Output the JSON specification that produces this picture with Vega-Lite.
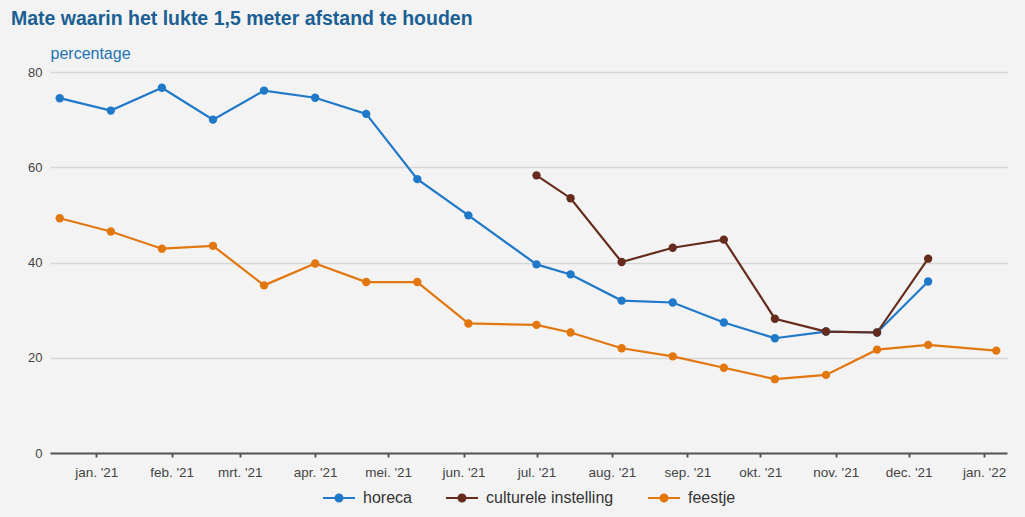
{
  "$schema": "https://vega.github.io/schema/vega-lite/v6.json",
  "autosize": {"type": "none"},
  "width": 957,
  "height": 381,
  "padding": {"left": 50, "top": 72, "right": 18, "bottom": 64},
  "background": "#f3f3f3",
  "title": {
    "text": "Mate waarin het lukte 1,5 meter afstand te houden",
    "anchor": "start",
    "frame": "group",
    "dx": -39,
    "font": "Liberation Sans",
    "fontSize": 19.5,
    "fontWeight": "bold",
    "color": "#1b5f94",
    "offset": 16
  },
  "config": {
    "view": {"stroke": null},
    "axis": {"labelFont": "Liberation Sans", "titleFont": "Liberation Sans"},
    "legend": {"layout": {"bottom": {"anchor": "middle"}}}
  },
  "data": {
    "values": [
      {"datum": "2020-12-17", "reeks": "horeca", "waarde": 74.5},
      {"datum": "2021-01-07", "reeks": "horeca", "waarde": 71.9},
      {"datum": "2021-01-28", "reeks": "horeca", "waarde": 76.7},
      {"datum": "2021-02-18", "reeks": "horeca", "waarde": 70.0},
      {"datum": "2021-03-11", "reeks": "horeca", "waarde": 76.1},
      {"datum": "2021-04-01", "reeks": "horeca", "waarde": 74.6},
      {"datum": "2021-04-22", "reeks": "horeca", "waarde": 71.2},
      {"datum": "2021-05-13", "reeks": "horeca", "waarde": 57.5},
      {"datum": "2021-06-03", "reeks": "horeca", "waarde": 49.9},
      {"datum": "2021-07-01", "reeks": "horeca", "waarde": 39.6},
      {"datum": "2021-07-15", "reeks": "horeca", "waarde": 37.5},
      {"datum": "2021-08-05", "reeks": "horeca", "waarde": 32.0},
      {"datum": "2021-08-26", "reeks": "horeca", "waarde": 31.6},
      {"datum": "2021-09-16", "reeks": "horeca", "waarde": 27.4},
      {"datum": "2021-10-07", "reeks": "horeca", "waarde": 24.1},
      {"datum": "2021-10-28", "reeks": "horeca", "waarde": 25.5},
      {"datum": "2021-11-18", "reeks": "horeca", "waarde": 25.3},
      {"datum": "2021-12-09", "reeks": "horeca", "waarde": 36.0},
      {"datum": "2021-07-01", "reeks": "culturele instelling", "waarde": 58.3},
      {"datum": "2021-07-15", "reeks": "culturele instelling", "waarde": 53.5},
      {"datum": "2021-08-05", "reeks": "culturele instelling", "waarde": 40.1},
      {"datum": "2021-08-26", "reeks": "culturele instelling", "waarde": 43.1},
      {"datum": "2021-09-16", "reeks": "culturele instelling", "waarde": 44.8},
      {"datum": "2021-10-07", "reeks": "culturele instelling", "waarde": 28.2},
      {"datum": "2021-10-28", "reeks": "culturele instelling", "waarde": 25.5},
      {"datum": "2021-11-18", "reeks": "culturele instelling", "waarde": 25.3},
      {"datum": "2021-12-09", "reeks": "culturele instelling", "waarde": 40.8},
      {"datum": "2020-12-17", "reeks": "feestje", "waarde": 49.3},
      {"datum": "2021-01-07", "reeks": "feestje", "waarde": 46.5},
      {"datum": "2021-01-28", "reeks": "feestje", "waarde": 42.9},
      {"datum": "2021-02-18", "reeks": "feestje", "waarde": 43.5},
      {"datum": "2021-03-11", "reeks": "feestje", "waarde": 35.2},
      {"datum": "2021-04-01", "reeks": "feestje", "waarde": 39.8},
      {"datum": "2021-04-22", "reeks": "feestje", "waarde": 35.9},
      {"datum": "2021-05-13", "reeks": "feestje", "waarde": 35.9},
      {"datum": "2021-06-03", "reeks": "feestje", "waarde": 27.2},
      {"datum": "2021-07-01", "reeks": "feestje", "waarde": 26.9},
      {"datum": "2021-07-15", "reeks": "feestje", "waarde": 25.3},
      {"datum": "2021-08-05", "reeks": "feestje", "waarde": 22.0},
      {"datum": "2021-08-26", "reeks": "feestje", "waarde": 20.3},
      {"datum": "2021-09-16", "reeks": "feestje", "waarde": 17.9},
      {"datum": "2021-10-07", "reeks": "feestje", "waarde": 15.5},
      {"datum": "2021-10-28", "reeks": "feestje", "waarde": 16.4},
      {"datum": "2021-11-18", "reeks": "feestje", "waarde": 21.7},
      {"datum": "2021-12-09", "reeks": "feestje", "waarde": 22.7},
      {"datum": "2022-01-06", "reeks": "feestje", "waarde": 21.5}
    ]
  },
  "encoding": {
    "x": {
      "field": "datum",
      "type": "temporal",
      "scale": {"type": "utc", "domain": ["2020-12-13", "2022-01-10T10:00:00"]},
      "axis": {
        "title": null,
        "values": ["2021-01-01", "2021-02-01", "2021-03-01", "2021-04-01", "2021-05-01", "2021-06-01", "2021-07-01", "2021-08-01", "2021-09-01", "2021-10-01", "2021-11-01", "2021-12-01", "2022-01-01"],
        "labelExpr": "['jan','feb','mrt','apr','mei','jun','jul','aug','sep','okt','nov','dec'][utcmonth(datum.value)] + \". '\" + utcFormat(datum.value, '%y')",
        "grid": false,
        "domainColor": "#555555",
        "domainWidth": 2,
        "tickColor": "#555555",
        "tickWidth": 2,
        "tickSize": 4,
        "labelPadding": 8,
        "labelFontSize": 13.5,
        "labelColor": "#444444",
        "labelFlush": false,
        "labelOverlap": false
      }
    },
    "y": {
      "field": "waarde",
      "type": "quantitative",
      "scale": {"domain": [0, 80], "nice": false},
      "axis": {
        "values": [0, 20, 40, 60, 80],
        "title": "percentage",
        "titleAngle": 0,
        "titleAlign": "left",
        "titleBaseline": "alphabetic",
        "titleX": 0,
        "titleY": -14,
        "titleColor": "#2373b5",
        "titleFontSize": 16,
        "titleFontWeight": "normal",
        "domain": false,
        "ticks": false,
        "labelPadding": 8,
        "labelFontSize": 13,
        "labelColor": "#444444",
        "gridColor": "#d6d6d6",
        "gridWidth": 1.5
      }
    },
    "color": {
      "field": "reeks",
      "type": "nominal",
      "scale": {
        "domain": ["horeca", "culturele instelling", "feestje"],
        "range": ["#1f78c8", "#652c1e", "#e2770f"]
      },
      "legend": {
        "orient": "bottom",
        "direction": "horizontal",
        "title": null,
        "labelFont": "Liberation Sans",
        "labelFontSize": 16,
        "labelColor": "#333333",
        "labelOffset": 7,
        "symbolType": "M-1,0H-0.22M0.22,0H1M0.22,0A0.22,0.22 0 1,1 -0.22,0A0.22,0.22 0 1,1 0.22,0",
        "symbolSize": 1024,
        "symbolStrokeWidth": 2,
        "columnPadding": 30,
        "offset": 2,
        "encode": {
          "symbols": {"update": {"fill": {"scale": "color", "field": "value"}, "stroke": {"scale": "color", "field": "value"}}}
        }
      }
    }
  },
  "layer": [
    {"mark": {"type": "line", "strokeWidth": 2.2}},
    {"mark": {"type": "point", "filled": true, "size": 70, "opacity": 1}}
  ]
}
